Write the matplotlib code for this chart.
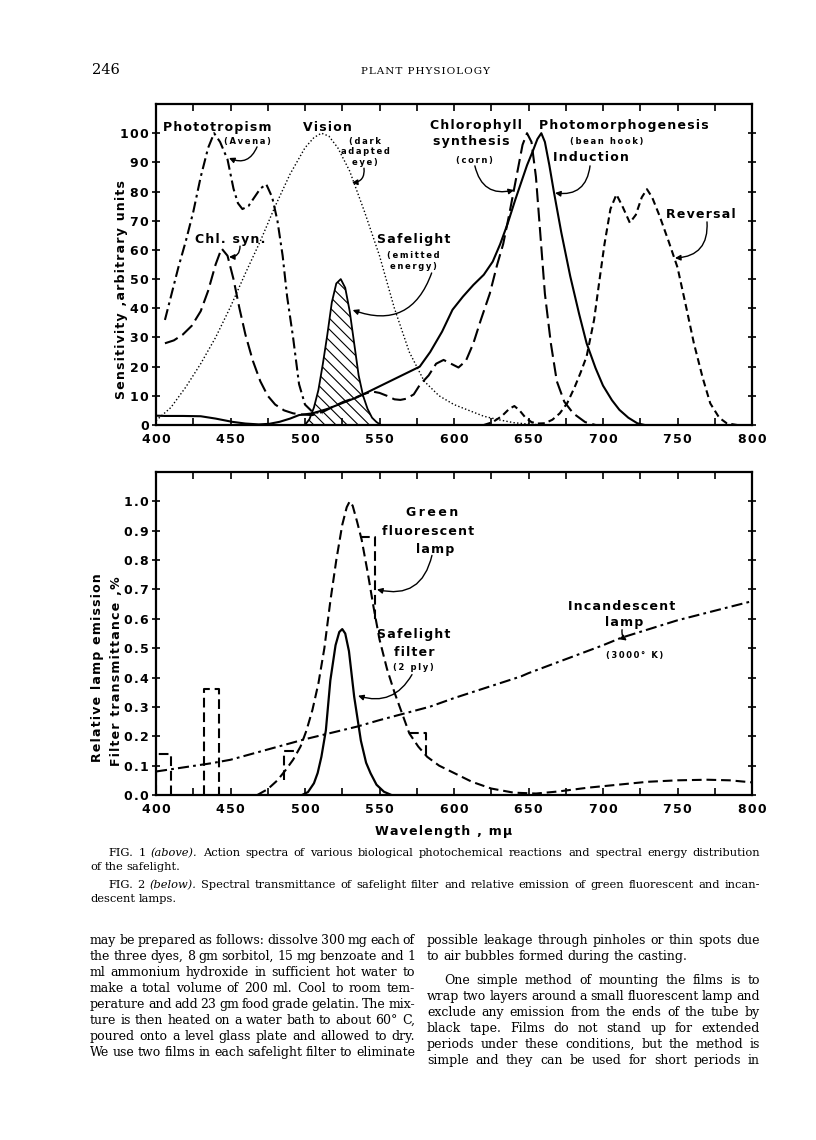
import numpy as np
import matplotlib
matplotlib.use('Agg')
import matplotlib.pyplot as plt
from matplotlib.transforms import IdentityTransform

plt.rcParams['font.family'] = 'DejaVu Sans'
plt.rcParams['lines.scale_dashes'] = False
plt.rcParams['hatch.linewidth'] = 0.8

W, H = 816, 1140

# ---- Fig. 1: action spectra (wavelength in m-mu, sensitivity in arbitrary units)
photo_wl = [406, 410, 415, 420, 425, 430, 435, 439, 443, 448, 452, 455, 458, 462, 466, 470, 474,
            478, 481.5, 485, 488, 492, 496, 500, 505, 512]
photo_val = [36, 44, 54, 63, 73, 85, 95, 100, 97, 91, 81, 76, 74, 75, 78, 81, 82.5,
             78, 70, 58, 44, 30, 14, 7, 4.5, 4]

chl_wl = [406, 412, 418, 424, 430, 435, 440, 444, 448, 452, 456, 460, 465, 470, 475, 480, 486,
          492, 498, 505, 512, 519, 526, 532, 539, 545, 550, 555, 560, 564, 568, 573, 577, 583,
          588, 593, 598, 603, 608, 613, 618, 624, 629, 633, 637, 640, 643, 646, 649, 652, 655,
          658, 661, 665, 669, 674, 680, 688, 695]
chl_val = [28, 29, 31, 34, 39, 46, 55, 60.5, 58, 50, 40, 31, 22, 15, 10, 7, 5,
           4, 3.6, 3.4, 4.5, 6.3, 8, 9, 10.5, 11.5, 11, 10, 8.8, 8.6, 9, 10.5, 13.7, 17,
           21, 22.3, 21, 19.7, 22, 28, 36, 45, 55, 62, 72, 80, 88, 96, 100, 97, 85,
           65, 45, 28, 15, 8, 4, 1, 0]

vision_wl = [400, 410, 420, 430, 440, 450, 460, 470, 480, 490, 500, 506, 511, 516, 522, 530,
             540, 550, 560, 570, 580, 590, 600, 610, 620, 630, 640, 650, 660]
vision_val = [1.5, 6, 13, 21, 30, 40.5, 52, 63, 75, 86, 95, 98.5, 100, 99, 95, 87,
              73, 58, 40, 25, 15, 10, 7, 5, 3, 1.8, 0.8, 0.3, 0]

induct_wl = [400, 406, 418, 430, 440, 451, 460, 469, 476, 483, 490, 496, 505, 515, 525, 535,
             545, 555, 565, 577, 584, 592, 599, 606, 613, 620, 626, 631, 636, 641, 645, 649,
             653, 656, 658.6, 661, 664, 667, 672, 678, 684, 689, 695, 700, 706, 711, 717, 723, 728]
induct_val = [3.2, 3.1, 3.1, 3, 2.2, 1.1, 0.5, 0.2, 0.4, 1.1, 2.2, 3.4, 4, 5.5, 7.5, 9.5,
              12, 14.5, 17, 20, 25, 32, 39.5, 44, 48, 51.5, 56, 62, 69, 77, 83, 89,
              94, 98, 100, 97, 89, 80, 66, 51, 38, 28, 19.5, 13.5, 8.5, 5.2, 2.5, 0.6, 0]

revers_wl = [620, 626, 632, 637, 640.5, 644, 648, 652, 656, 661, 666, 671, 676, 681, 685, 689,
             694, 698, 701, 705, 709, 713, 718, 722, 726, 729.5, 733, 738, 744, 750, 756, 761,
             767, 772, 778, 783, 790]
revers_val = [0, 1, 3, 5.5, 6.5, 5, 2.5, 1, 0.5, 0.6, 1.8, 4, 7.5, 13, 18, 23.5,
              36, 51, 62, 74, 79, 75, 69.3, 72, 78, 80.8, 78, 71.6, 63, 54, 40, 28,
              16, 7.4, 2.5, 0.6, 0]

safe_wl = [500, 503, 506, 509, 512, 515, 518, 521, 524, 527, 530, 533, 536, 539, 542, 545, 548, 551]
safe_val = [0, 2, 6, 12, 21, 31, 42, 48.5, 50, 47, 39, 28, 17, 10, 5.5, 2.5, 1, 0]

# ---- Fig. 2: lamp emission and filter transmittance
lamp_wl = [468, 475, 481.5, 487, 492, 497, 501, 505, 509, 513, 517, 521, 525, 528, 530, 532,
           535, 538, 542, 546, 550, 555, 560, 565, 570, 576, 582, 590, 600, 612, 625, 640,
           655, 670, 690, 710, 730, 750, 770, 785, 800]
lamp_val = [0, 0.02, 0.05, 0.085, 0.12, 0.165, 0.22, 0.29, 0.38, 0.5, 0.66, 0.8, 0.92, 0.98, 1.0,
            0.985, 0.93, 0.87, 0.76, 0.64, 0.53, 0.43, 0.35, 0.28, 0.21, 0.165, 0.13, 0.1,
            0.075, 0.045, 0.022, 0.008, 0.005, 0.012, 0.025, 0.035, 0.045, 0.05, 0.052, 0.05, 0.043]

# mercury line bands of the green lamp
band_left = [400, 432, 486, 537, 570]
band_right = [410, 442, 496, 547, 581]
band_top = [0.14, 0.36, 0.15, 0.88, 0.21]
band_base_left = [0.0, 0.0, 0.05, 0.88, 0.21]
band_base_right = [0.0, 0.0, 0.15, 0.60, 0.13]

filt_wl = [498, 502, 506, 508.5, 511, 514, 517, 520.5, 523, 525, 527, 529.5, 533, 537.5, 541,
           544, 548, 553, 558]
filt_val = [0, 0.01, 0.04, 0.075, 0.13, 0.22, 0.39, 0.51, 0.555, 0.565, 0.55, 0.49, 0.335,
            0.185, 0.11, 0.074, 0.035, 0.011, 0]

incand_wl = [400, 437, 450, 490, 500, 535, 550, 584, 600, 645, 650, 700, 712, 750, 800]
incand_val = [0.08, 0.108, 0.12, 0.176, 0.19, 0.233, 0.255, 0.301, 0.33, 0.404, 0.415, 0.51,
              0.535, 0.595, 0.66]

caption_lines = [
    ("FIG. 1 (above). Action spectra of various biological photochemical reactions and spectral energy distribution", 108, 852, True),
    ("of the safelight.", 90, 866, False),
    ("FIG. 2 (below). Spectral transmittance of safelight filter and relative emission of green fluorescent and incan-", 108, 884, True),
    ("descent lamps.", 90, 898, False),
]
left_col = [
    "may be prepared as follows: dissolve 300 mg each of",
    "the three dyes, 8 gm sorbitol, 15 mg benzoate and 1",
    "ml ammonium hydroxide in sufficient hot water to",
    "make a total volume of 200 ml. Cool to room tem-",
    "perature and add 23 gm food grade gelatin. The mix-",
    "ture is then heated on a water bath to about 60\u00b0 C,",
    "poured onto a level glass plate and allowed to dry.",
    "We use two films in each safelight filter to eliminate",
]
right_col = [
    ("possible leakage through pinholes or thin spots due", 0, True),
    ("to air bubbles formed during the casting.", 0, False),
    ("One simple method of mounting the films is to", 17, True),
    ("wrap two layers around a small fluorescent lamp and", 0, True),
    ("exclude any emission from the ends of the tube by", 0, True),
    ("black tape. Films do not stand up for extended", 0, True),
    ("periods under these conditions, but the method is", 0, True),
    ("simple and they can be used for short periods in", 0, True),
]
right_y = [940, 956, 980, 996, 1012, 1028, 1044, 1060]


def sp(s, gap='\u200a'):
    return gap.join(s)


def rect(l, t, r, b):
    return [l / W, 1 - b / H, (r - l) / W, (b - t) / H]


fig = plt.figure(figsize=(W / 100, H / 100), dpi=100)
renderer = fig.canvas.get_renderer()
ident = IdentityTransform()


def style_axes(ax, yticks, ylabels):
    ax.set_xlim(400, 800)
    ax.set_xticks(range(400, 801, 50))
    ax.set_xticklabels([sp(str(v)) for v in range(400, 801, 50)], fontsize=9, fontweight='bold')
    ax.set_xticks(range(425, 800, 50), minor=True)
    ax.set_yticks(yticks)
    ax.set_yticklabels([sp(s) for s in ylabels], fontsize=9, fontweight='bold')
    ax.tick_params(axis='x', which='both', direction='in', top=True, length=5, width=1.2, pad=6)
    ax.tick_params(axis='y', direction='inout', right=True, length=6, width=1.2, pad=2)
    for s in ax.spines.values():
        s.set_linewidth(1.6)


def label(ax, x, y, s, size=8.5, gap='\u200a', **kw):
    ax.text(x, y, sp(s, gap), fontsize=size, fontweight='bold', ha='center', va='center', **kw)


def arrow(ax, start, end, rad):
    ax.annotate('', xy=end, xytext=start,
                arrowprops=dict(arrowstyle='-|>', connectionstyle='arc3,rad=%s' % rad,
                                color='black', lw=1.0, mutation_scale=8, shrinkA=0, shrinkB=0))


# ---------------- Fig. 1
ax1 = fig.add_axes(rect(156, 104, 752, 425))
ax1.plot(photo_wl, photo_val, color='black', lw=1.5, linestyle=(0, (8, 3, 2, 3)))
ax1.plot(chl_wl, chl_val, color='black', lw=1.5, linestyle=(0, (10, 4)))
ax1.plot(vision_wl, vision_val, color='black', lw=1.0, linestyle=(0, (1, 1.6)))
ax1.plot(induct_wl, induct_val, color='black', lw=1.5)
ax1.plot(revers_wl, revers_val, color='black', lw=1.5, linestyle=(0, (5, 3)))
ax1.fill_between(safe_wl, safe_val, 0, facecolor='none', edgecolor='black', hatch='\\\\\\', linewidth=0)
ax1.plot(safe_wl, safe_val, color='black', lw=1.3)
ax1.set_ylim(0, 110)
style_axes(ax1, range(0, 101, 10), [str(v) for v in range(0, 101, 10)])

label(ax1, 441, 102.1, 'Phototropism', 9)
label(ax1, 461.7, 97, '(Avena)', 6, '\u2009')
arrow(ax1, (467.8, 95.3), (449, 91.5), -0.5)
label(ax1, 514.8, 102.1, 'Vision', 9)
ax1.text(540.5, 93.6, '\n'.join(sp(w, '\u2009') for w in ['(dark', 'adapted', 'eye)']),
         fontsize=6, fontweight='bold', ha='center', va='center', linespacing=1.25)
arrow(ax1, (539.6, 88), (531.5, 83), -0.5)
label(ax1, 449.7, 63.4, 'Chl. syn.', 9)
arrow(ax1, (456.4, 61.3), (449, 57.6), -0.5)
label(ax1, 573, 63.4, 'Safelight', 9)
ax1.text(573, 56.2, sp('(emitted', '\u2009') + '\n' + sp('energy)', '\u2009'), fontsize=6,
         fontweight='bold', ha='center', va='center', linespacing=1.3)
arrow(ax1, (585, 52.1), (532, 39.4), -0.5)
label(ax1, 614.8, 102.8, 'Chlorophyll', 9)
label(ax1, 611.4, 97, 'synthesis', 9)
label(ax1, 614, 90.8, '(corn)', 6, '\u2009')
arrow(ax1, (614, 88.8), (640.3, 80.5), 0.5)
label(ax1, 714, 102.8, 'Photomorphogenesis', 9)
label(ax1, 702.7, 97, '(bean hook)', 6, '\u2009')
label(ax1, 692, 91.5, 'Induction', 9)
arrow(ax1, (691.3, 88.8), (667.8, 79.5), -0.5)
label(ax1, 765.8, 72, 'Reversal', 9)
arrow(ax1, (769.8, 69.6), (748.3, 57.2), -0.5)

fig.text(122 / W, 1 - 290 / H, sp('Sensitivity ,arbitrary units'), rotation=90, fontsize=9,
         fontweight='bold', ha='center', va='center')

# ---------------- Fig. 2
ax2 = fig.add_axes(rect(156, 472, 752, 795))
ax2.plot(lamp_wl, lamp_val, color='black', lw=1.5, linestyle=(0, (7, 3.5)))
for l, r, t, bl, br in zip(band_left, band_right, band_top, band_base_left, band_base_right):
    ax2.plot([l, l, r, r], [bl, t, t, br], color='black', lw=1.5, linestyle=(0, (7, 3.5)))
ax2.plot(filt_wl, filt_val, color='black', lw=1.6)
ax2.plot(incand_wl, incand_val, color='black', lw=1.5, linestyle=(0, (8, 3, 2, 3)))
ax2.set_ylim(0, 1.1)
style_axes(ax2, np.arange(0, 1.01, 0.1), ['%.1f' % v for v in np.arange(0, 1.01, 0.1)])

label(ax2, 585.2, 0.962, 'Green', 9, '\u2009')
label(ax2, 582.6, 0.898, 'fluorescent', 9)
label(ax2, 587.2, 0.836, 'lamp', 9)
arrow(ax2, (585.2, 0.816), (548.3, 0.70), -0.5)
label(ax2, 573.2, 0.546, 'Safelight', 9)
label(ax2, 573.2, 0.485, 'filter', 9)
label(ax2, 572.5, 0.433, '(2 ply)', 6, '\u2009')
arrow(ax2, (571.8, 0.41), (535.6, 0.338), -0.4)
label(ax2, 712.8, 0.642, 'Incandescent', 9)
label(ax2, 714, 0.587, 'lamp', 9)
arrow(ax2, (712.8, 0.563), (716, 0.526), 0.3)
label(ax2, 721.5, 0.474, '(3000\u00b0 K)', 6, '\u2009')

fig.text(98 / W, 1 - 668 / H, sp('Relative lamp emission'), rotation=90, fontsize=9,
         fontweight='bold', ha='center', va='center')
fig.text(117 / W, 1 - 671 / H, sp('Filter transmittance ,%'), rotation=90, fontsize=9,
         fontweight='bold', ha='center', va='center')
fig.text(444 / W, 1 - 832 / H, sp('Wavelength , m\u03bc'), fontsize=9,
         fontweight='bold', ha='center', va='center')


# ---------------- page text
def line(text, x0, x1, y, size, justify=True):
    words = text.split(' ')
    arts, widths = [], []
    for w in words:
        st = 'italic' if w in ('(above).', '(below).') else 'normal'
        t = fig.text(0, 0, w, transform=ident, fontsize=size, family='DejaVu Serif',
                     style=st, va='baseline')
        arts.append(t)
        widths.append(t.get_window_extent(renderer).width)
    gap = size * 100 / 72 * 0.3
    if justify and len(words) > 1:
        gap = (x1 - x0 - sum(widths)) / (len(words) - 1)
    x = x0
    for t, w in zip(arts, widths):
        t.set_position((x, H - y))
        x += w + gap


fig.text(92 / W, 1 - 74 / H, '246', fontsize=10.5, family='DejaVu Serif', va='baseline')
fig.text(425 / W, 1 - 74 / H, sp('PLANT PHYSIOLOGY'), fontsize=7.5, family='DejaVu Serif',
         va='baseline', ha='center')

col_l0, col_l1, col_r0, col_r1 = 90, 415, 427, 760
for text, x0, y, just in caption_lines:
    line(text, x0, col_r1, y + 4, 8.2, just)
for i, text in enumerate(left_col):
    line(text, col_l0, col_l1, 944 + 16 * i, 9.0)
for (text, indent, just), y in zip(right_col, right_y):
    line(text, col_r0 + indent, col_r1, y + 4, 9.0, just)

fig.savefig('out.png', dpi=100)
